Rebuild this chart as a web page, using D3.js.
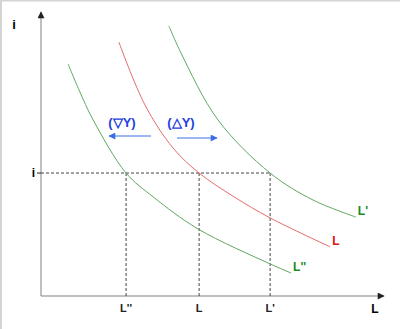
<!DOCTYPE html>
<html>
<head>
<meta charset="utf-8">
<script src="https://cdn.jsdelivr.net/npm/d3@7"></script>
<style>
  body { margin: 0; background: #fff; }
  svg { display: block; font-family: "Liberation Sans", Arial, sans-serif; }
</style>
</head>
<body>
<div id="chart"></div>
<script>
// curve points, in chart units (L on x, i on y, both 0..100)
var curveLpp = [[7.9, 81.7], [11.1, 72.5], [15.2, 62.0], [24.8, 43.3], [32.7, 34.9], [45.8, 23.6], [66.8, 11.3], [72.9, 8.1]];
var curveL   = [[22.7, 89.4], [30.3, 67.3], [38.5, 52.1], [46.1, 43.3], [56.3, 34.9], [66.8, 27.5], [84.3, 17.3]];
var curveLp  = [[37.3, 95.1], [40.8, 85.6], [51.6, 62.0], [66.8, 43.3], [79.3, 33.8], [91.8, 27.8]];
var curveNames = ["L''", "L", "L'"];

var iLevel = 43.3;
var tickNames = ["L''", "L", "L'"];
var tickValues = [24.8, 46.1, 66.8];

var width = 400, height = 329;
var svg = d3.select("#chart").append("svg")
	.attr("width", width)
	.attr("height", height);

var x = d3.scaleLinear().domain([0, 100]).range([41, 384]);
var y = d3.scaleLinear().domain([0, 100]).range([296, 12]);

// frame (top + left only)
svg.append("line").attr("x1", 0).attr("y1", 0.5).attr("x2", width).attr("y2", 0.5)
	.attr("stroke", "#d4d4d4").attr("stroke-width", 2);
svg.append("line").attr("x1", 1).attr("y1", 0).attr("x2", 1).attr("y2", height)
	.attr("stroke", "#d4d4d4").attr("stroke-width", 2);

var defs = svg.append("defs");
function marker(id, colour, w, h) {
	defs.append("marker")
		.attr("id", id)
		.attr("viewBox", "0 0 10 10")
		.attr("refX", 9).attr("refY", 5)
		.attr("markerWidth", w).attr("markerHeight", h)
		.attr("markerUnits", "userSpaceOnUse")
		.attr("orient", "auto")
		.append("path")
		.attr("d", "M0,0L10,5L0,10Z")
		.attr("fill", colour);
}
marker("axisArrow", "#222", 9, 7);
marker("blueArrow", "#3a6fe6", 8, 7);

// axes
var g = svg.append("g");
g.append("line")
	.attr("x1", x(0)).attr("y1", y(0))
	.attr("x2", x(0)).attr("y2", y(100))
	.attr("stroke", "#808080").attr("stroke-width", 1)
	.attr("marker-end", "url(#axisArrow)");
g.append("line")
	.attr("x1", x(0)).attr("y1", y(0))
	.attr("x2", x(100)).attr("y2", y(0))
	.attr("stroke", "#808080").attr("stroke-width", 1)
	.attr("marker-end", "url(#axisArrow)");

// dashed guides
g.append("line")
	.attr("x1", x(0)).attr("y1", y(iLevel))
	.attr("x2", x(d3.max(tickValues))).attr("y2", y(iLevel))
	.attr("stroke", "#444").attr("stroke-dasharray", "3,2");
g.selectAll(".vguide").data(tickValues).enter().append("line")
	.attr("class", "vguide")
	.attr("x1", function(d) { return x(d); }).attr("y1", y(iLevel))
	.attr("x2", function(d) { return x(d); }).attr("y2", y(0))
	.attr("stroke", "#444").attr("stroke-dasharray", "3,2");

// i tick
g.append("line")
	.attr("x1", x(0) - 4).attr("y1", y(iLevel))
	.attr("x2", x(0)).attr("y2", y(iLevel))
	.attr("stroke", "#222");
g.append("text")
	.attr("x", x(0) - 6).attr("y", y(iLevel) + 4)
	.attr("text-anchor", "end")
	.style("font-size", "12px").style("font-weight", "bold")
	.text("i");

g.selectAll(".tick").data(tickValues).enter().append("text")
	.attr("class", "tick")
	.attr("x", function(d) { return x(d); })
	.attr("y", 312)
	.attr("text-anchor", "middle")
	.style("font-size", "11px").style("font-weight", "bold")
	.attr("fill", "#222")
	.text(function(d, i) { return tickNames[i]; });

// axis titles
g.append("text").attr("x", 14).attr("y", 29)
	.attr("text-anchor", "middle")
	.style("font-size", "13px").style("font-weight", "bold")
	.text("i");
g.append("text").attr("x", 375).attr("y", 313)
	.attr("text-anchor", "middle")
	.style("font-size", "12px").style("font-weight", "bold")
	.text("L");

// curves
var line = d3.line()
	.x(function(d) { return x(d[0]); })
	.y(function(d) { return y(d[1]); })
	.curve(d3.curveCatmullRom.alpha(0.5));

var curves = [curveLpp, curveL, curveLp];
var lineColours = ["#5fa85f", "#e86a6a", "#5fa85f"];
var labelColours = ["#1a8a1a", "#e01010", "#1a8a1a"];

curves.forEach(function(pts, k) {
	g.append("path")
		.attr("d", line(pts))
		.attr("fill", "none")
		.attr("stroke", lineColours[k])
		.attr("stroke-width", 1);
	var last = pts[pts.length - 1];
	g.append("text")
		.attr("x", x(last[0]) + 2)
		.attr("y", y(last[1]) - 2)
		.attr("fill", labelColours[k])
		.style("font-size", "12px").style("font-weight", "bold")
		.text(curveNames[k]);
});

// shift arrows
g.append("line")
	.attr("x1", 151).attr("y1", 136).attr("x2", 109).attr("y2", 136)
	.attr("stroke", "#3a6fe6").attr("stroke-width", 1)
	.attr("marker-end", "url(#blueArrow)");
g.append("line")
	.attr("x1", 177).attr("y1", 138).attr("x2", 217).attr("y2", 138)
	.attr("stroke", "#3a6fe6").attr("stroke-width", 1)
	.attr("marker-end", "url(#blueArrow)");
g.append("text").attr("x", 122).attr("y", 127)
	.attr("text-anchor", "middle").attr("fill", "#1f3fe0")
	.style("font-size", "13px").style("font-weight", "bold")
	.text("(\u25BDY)");
g.append("text").attr("x", 181).attr("y", 127)
	.attr("text-anchor", "middle").attr("fill", "#1f3fe0")
	.style("font-size", "13px").style("font-weight", "bold")
	.text("(\u25B3Y)");
</script>
</body>
</html>
